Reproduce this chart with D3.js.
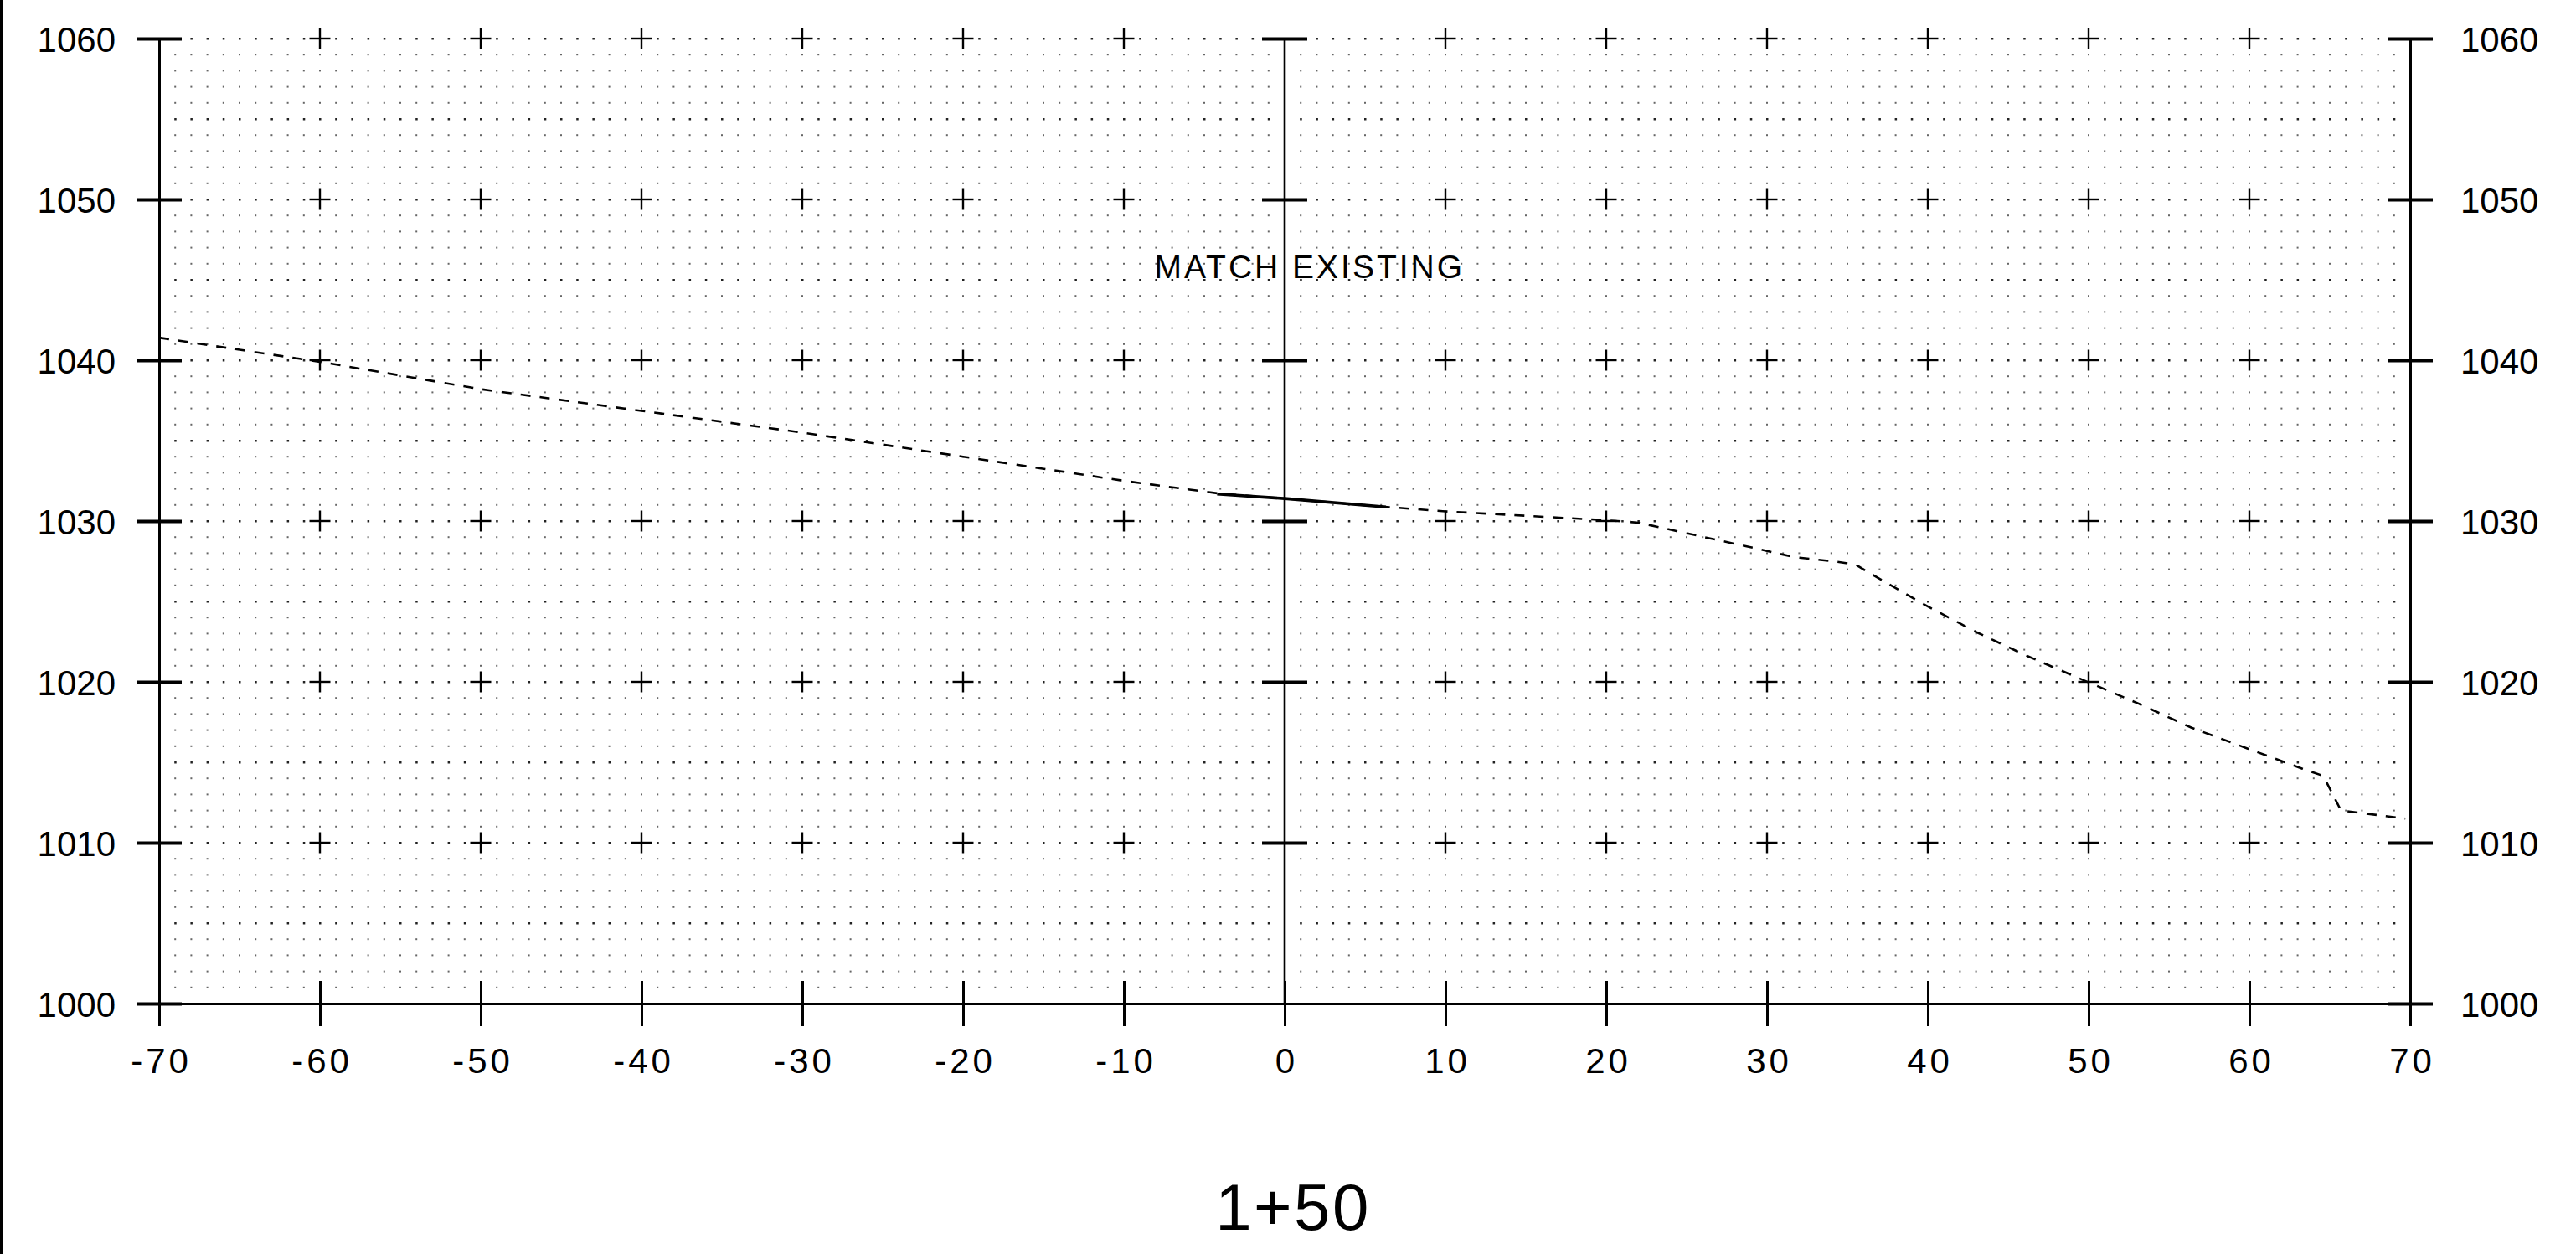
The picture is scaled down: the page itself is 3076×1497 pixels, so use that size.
<!DOCTYPE html>
<html>
<head>
<meta charset="utf-8">
<script src="https://cdn.jsdelivr.net/npm/d3@7"></script>
<style>
  html, body { margin: 0; padding: 0; background: #fff; }
  svg { display: block; }
</style>
</head>
<body>
<div id="chart"></div>
<script>
const width = 3076;
const height = 1497;

// Ground profile (offset, elevation) read from the section
const offsets = [-70, -60, -50, -40, -30, -20, -10, -4, 0, 6, 10, 20, 22, 24.5, 29.3, 31.7, 34.1, 35.5, 36.4, 39.7, 43, 46.2, 49.7, 53.1, 56.4, 59.9, 63.3, 64.6, 65.7, 69.7];
const groundElev = [1041.4, 1039.9, 1038.2, 1036.85, 1035.5, 1034.0, 1032.5, 1031.7, 1031.4, 1030.9, 1030.6, 1030.05, 1029.9, 1029.35, 1028.3, 1027.75, 1027.5, 1027.3, 1026.75, 1024.85, 1023.1, 1021.6, 1020.1, 1018.65, 1017.15, 1015.85, 1014.6, 1014.15, 1012.0, 1011.5];

// Proposed "match existing" segment
const matchOffsets = [-4.2, 0, 6.3];
const matchElev = [1031.68, 1031.4, 1030.87];

const xTicks = [-70, -60, -50, -40, -30, -20, -10, 0, 10, 20, 30, 40, 50, 60, 70];
const yTicks = [1000, 1010, 1020, 1030, 1040, 1050, 1060];

const noteText = "MATCH EXISTING";
const stationLabel = "1+50";

const font = "'Liberation Sans', Arial, sans-serif";

const svg = d3.select("#chart")
    .append("svg")
    .attr("width", width)
    .attr("height", height)
    .attr("viewBox", `0 0 ${width} ${height}`);

const x = d3.scaleLinear().domain([-70, 70]).range([190, 2878]);
const y = d3.scaleLinear().domain([1000, 1060]).range([1198, 46]);

// left border of the sheet
svg.append("line")
    .attr("x1", 1.5).attr("x2", 1.5)
    .attr("y1", 0).attr("y2", height)
    .attr("stroke", "#000").attr("stroke-width", 3);

// dot grid, one per unit
const dotGrid = [];
for (let i = -69; i <= 69; i++) {
    for (let j = 1001; j <= 1060; j++) {
        if (i === 0) continue;
        if (i % 10 === 0 && j % 10 === 0) continue;
        dotGrid.push([i, j]);
    }
}
svg.append("g")
    .selectAll("rect")
    .data(dotGrid)
    .enter()
    .append("rect")
    .attr("x", d => x(d[0]) - 1)
    .attr("y", d => y(d[1]) - 1)
    .attr("width", d => d[1] % 5 === 0 ? 2.5 : 2)
    .attr("height", d => d[1] % 5 === 0 ? 2.5 : 2)
    .attr("fill", d => d[1] % 5 === 0 ? "#222" : "#666");

// crosses at the 10-unit intersections
const crossPts = [];
xTicks.filter(v => v !== -70 && v !== 0 && v !== 70).forEach(xv => {
    yTicks.filter(v => v !== 1000).forEach(yv => crossPts.push([xv, yv]));
});
const cross = svg.append("g")
    .attr("stroke", "#000")
    .attr("stroke-width", 2.4)
    .selectAll("g")
    .data(crossPts)
    .enter()
    .append("g")
    .attr("transform", d => `translate(${x(d[0])},${y(d[1])})`);
cross.append("line").attr("x1", -12.5).attr("x2", 12.5);
cross.append("line").attr("y1", -12.5).attr("y2", 12.5);

// centerline with wide ticks
const gCenter = svg.append("g")
    .attr("transform", `translate(${x(0)},0)`)
    .call(d3.axisRight(y).tickValues(yTicks.filter(v => v !== 1000)).tickSize(27).tickSizeOuter(0).tickFormat(""));
gCenter.select(".domain").attr("stroke-width", 2.6).attr("d", `M0,${y(1000)}V${y(1060)}`);
gCenter.selectAll(".tick line").attr("x1", -27).attr("x2", 27).attr("stroke-width", 4);

function styleAxis(g, ticksW, domainW) {
    g.attr("font-family", font).attr("font-size", 42);
    g.select(".domain").attr("stroke-width", domainW).attr("stroke", "#000");
    g.selectAll(".tick line").attr("stroke", "#000").attr("stroke-width", ticksW);
    g.selectAll(".tick text").attr("fill", "#000");
}

// left axis
const gLeft = svg.append("g")
    .attr("transform", `translate(${x(-70)},0)`)
    .call(d3.axisLeft(y).tickValues(yTicks).tickSize(27).tickSizeOuter(0).tickPadding(25).tickFormat(d => String(d)));
styleAxis(gLeft, 4, 3);
gLeft.selectAll(".tick line").attr("x1", -27).attr("x2", 27);
gLeft.selectAll(".tick text").attr("dy", "0.37em");

// right axis
const gRight = svg.append("g")
    .attr("transform", `translate(${x(70)},0)`)
    .call(d3.axisRight(y).tickValues(yTicks).tickSize(27).tickSizeOuter(0).tickPadding(33).tickFormat(d => String(d)));
styleAxis(gRight, 4, 3);
gRight.selectAll(".tick line").attr("x1", -27).attr("x2", 27);
gRight.selectAll(".tick text").attr("dy", "0.37em");

// bottom axis
const gBottom = svg.append("g")
    .attr("transform", `translate(0,${y(1000)})`)
    .call(d3.axisBottom(x).tickValues(xTicks).tickSize(27).tickSizeOuter(0).tickPadding(26).tickFormat(d => String(d)));
styleAxis(gBottom, 3, 3);
gBottom.selectAll(".tick line").attr("y1", -27).attr("y2", 27);
gBottom.selectAll(".tick text")
    .attr("letter-spacing", 4)
    .attr("dx", 2);

// existing ground (dashed)
const line = d3.line()
    .x(d => x(d[0]))
    .y(d => y(d[1]));

svg.append("path")
    .datum(offsets.map((o, i) => [o, groundElev[i]]))
    .attr("d", line)
    .attr("fill", "none")
    .attr("stroke", "#000")
    .attr("stroke-width", 2.6)
    .attr("stroke-dasharray", "12 11");

// match existing (solid)
svg.append("path")
    .datum(matchOffsets.map((o, i) => [o, matchElev[i]]))
    .attr("d", line)
    .attr("fill", "none")
    .attr("stroke", "#000")
    .attr("stroke-width", 3.6);

// annotation
svg.append("text")
    .attr("x", x(-8.1))
    .attr("y", y(1045.1))
    .attr("font-family", font)
    .attr("font-size", 39)
    .attr("letter-spacing", 3)
    .attr("fill", "#000")
    .text(noteText);

// station label
svg.append("text")
    .attr("x", x(0) + 10)
    .attr("y", 1468)
    .attr("text-anchor", "middle")
    .attr("font-family", font)
    .attr("font-size", 78)
    .attr("letter-spacing", 2.5)
    .attr("fill", "#000")
    .text(stationLabel);
</script>
</body>
</html>
